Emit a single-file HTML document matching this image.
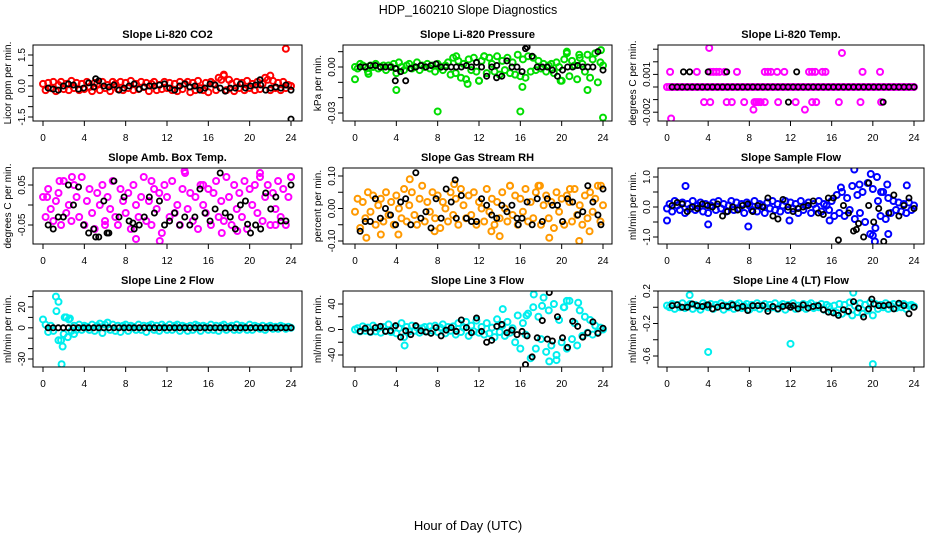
<!DOCTYPE html>
<html><head><meta charset="utf-8"><style>
body{margin:0;background:#fff;}
svg{display:block;font-family:"Liberation Sans",sans-serif;}
</style></head><body>
<svg id="chart" width="936" height="540" viewBox="0 0 936 540" xmlns="http://www.w3.org/2000/svg">
<text x="468" y="14" text-anchor="middle" font-size="12.5">HDP_160210  Slope Diagnostics</text>
<text x="468" y="530" text-anchor="middle" font-size="13">Hour of Day (UTC)</text>
</svg>
<script>
const xTicks=[0,4,8,12,16,20,24];
const titles=["Slope Li-820 CO2","Slope Li-820 Pressure","Slope Li-820 Temp.","Slope Amb. Box Temp.","Slope Gas Stream RH","Slope Sample Flow","Slope Line 2 Flow","Slope Line 3 Flow","Slope Line 4 (LT) Flow"];
const yTitles=["Licor ppm per min.","kPa per min.","degrees C per min.","degrees C per min.","percent per min.","ml/min per min.","ml/min per min.","ml/min per min.","ml/min per min."];
const colors=["#ff0000","#00dd00","#ff00ff","#ff00ff","#ff9900","#0000ff","#00eeee","#00eeee","#00eeee"];
const yTickVals=[[-1.5,-1,-0.5,0,0.5,1,1.5],[-0.03,-0.02,-0.01,0,0.01],[-0.002,-0.001,0,0.001,0.002,0.003],[-0.05,0,0.05],[-0.1,-0.05,0,0.05,0.1],[-1,-0.5,0,0.5,1],[-30,-20,-10,0,10,20,30],[-40,-20,0,20,40],[-0.6,-0.4,-0.2,0,0.2]];
const yTickLabels=[["-1.5","0.0","1.5"],["-0.03","0.00"],["-0.002","0.001"],["-0.05","0.05"],["-0.10","0.00","0.10"],["-1.0","0.0","1.0"],["-30","0","20"],["-40","0","40"],["-0.6","-0.2","0.2"]];
const yTickLabelVals=[[-1.5,0,1.5],[-0.03,0],[-0.002,0.001],[-0.05,0.05],[-0.1,0,0.1],[-1,0,1],[-30,0,20],[-40,0,40],[-0.6,-0.2,0.2]];
const yDomains=[[-1.5,1.5],[-0.03,0],[0,0.001],[-0.05,0.05],[-0.1,0.1],[-1,1],[-30,20],[-40,40],[-0.6,0.2]];

const co2Color=[.1,-.2,.15,-.1,.2,-.25,.05,.2,-.15,.1,-.2,.25,-.1,.15,-.2,.1,-.15,.2,-.05,-.25,.15,.1,-.2,.2,-.1,.05,-.25,.2,.1,-.15,.2,-.2,.15,-.1,.25,-.2,.1,-.15,.2,-.05,.15,-.25,.1,.2,-.2,.05,-.15,.2,-.1,.15,-.2,.1,-.25,.2,-.15,.1,.2,-.3,.15,-.2,.25,-.1,-.2,.15,-.3,.2,.1,-.2,.4,.3,.5,-.2,.3,.1,-.25,.2,-.1,.15,-.2,.25,-.1,.1,-.2,.2,-.15,.1,.4,.3,-.2,.25,-.1,.15,-.2,.2,-.1,.05,0];
const co2Black=[-.1,-.15,-.2,0,.1,.05,-.15,-.1,.15,-.05,.25,0,-.05,.05,-.2,-.1,0,.1,-.15,-.05,0,0,.05,.1,-.1,-.2,0,.1,-.05,0,-.2,-.1,.1,.05,-.1,-.25,-.1,-.1,.1,-.1,0,.05,.05,-.2,-.1,-.05,-.1,.05,-.2];
const co2Extra=[[23.5,1.8],[17.5,.55],[22,.5]];
const co2BlackExtra=[[24,-1.6],[5.1,.35],[21,.3]];

const presColor=[0,-.001,.002,.001,0,-.003,.001,0,.002,-.001,0,.001,-.002,.001,0,.002,-.004,.003,0,-.002,.001,.002,-.001,0,.003,-.002,.001,0,.002,-.001,.001,-.003,.002,0,-.002,.001,.003,-.005,.006,-.004,.004,-.007,.002,-.008,.005,-.002,.006,-.003,-.009,.004,.007,-.004,.006,.002,-.003,.007,-.005,.004,-.002,.006,-.004,.003,-.005,.008,-.006,.005,-.007,.007,-.003,.006,-.002,.004,-.001,.002,-.003,.001,.002,-.004,.003,0,-.009,.005,.009,-.006,.004,.001,-.008,.006,.002,-.003,.008,-.007,.005,.009,-.010,.003,.001];
const presBlack=[0,0,.001,.001,0,0,0,-.001,-.003,-.009,-.001,0,.001,0,.001,.002,0,0,0,0,0,.001,0,.003,0,-.006,0,.001,-.006,.004,0,0,-.003,.013,.007,0,0,0,-.002,-.006,-.002,0,0,.001,0,0,0,.01,-.002];
const presExtra=[[0,-.008],[1.3,-.0045],[4,-.015],[8,-.029],[16,-.029],[16.2,-.013],[22.5,-.015],[24,-.033],[23.8,.011],[20.5,.01],[21.7,.008],[12.5,.007],[9.8,.007],[10.9,-.011],[12,-.009],[19.9,-.009]];
const presBlackExtra=[[3.9,-.009],[16.5,.012],[13.7,-.007]];

const tempColor=[0,0,0,0,0,0,0,0,0,0,0,0,0,0,0,0,0,0,0,0,0,0,0,0,0,0,0,0,0,0,0,0,0,0,0,0,0,0,0,0,0,0,0,0,0,0,0,0,0,0,0,0,0,0,0,0,0,0,0,0,0,0,0,0,0,0,0,0,0,0,0,0,0,0,0,0,0,0,0,0,0,0,0,0,0,0,0,0,0,0,0,0,0,0,0,0,0];
const tempBlack=[0,0,0,0,0,0,0,0,0,0,0,0,0,0,0,0,0,0,0,0,0,0,0,0,0,0,0,0,0,0,0,0,0,0,0,0,0,0,0,0,0,0,0,0,0,0,0,0,0];
const tempExtra=[[0.3,.0012],[2.9,.0012],[4.2,.0012],[4.5,.0012],[4.8,.0012],[5.1,.0012],[5.6,.0012],[6.8,.0012],[9.5,.0012],[9.8,.0012],[10.1,.0012],[10.7,.0012],[11.4,.0012],[13.8,.0012],[14.1,.0012],[14.4,.0012],[15.1,.0012],[15.4,.0012],[19,.0012],[20.7,.0012],[4.1,.0031],[17,.0027],[3.6,-.0012],[4.2,-.0012],[5.8,-.0012],[6.3,-.0012],[7.5,-.0012],[8.5,-.0012],[8.7,-.0012],[8.9,-.0012],[9.1,-.0012],[9.5,-.0012],[10.8,-.0012],[12.5,-.0012],[14.1,-.0012],[14.5,-.0012],[16.7,-.0012],[18.8,-.0012],[20.8,-.0012],[8.4,-.0018],[13.4,-.0018],[0.4,-.0025]];
const tempBlackExtra=[[1.6,.0012],[2.2,.0012],[4,.0012],[5.8,.0012],[12.6,.0012],[11.8,-.0012],[21,-.0012]];

const ambColor=[.02,-.03,.04,-.01,-.04,.01,.03,-.05,.06,-.02,0,-.04,.05,.02,-.03,.07,-.05,.01,.04,-.02,-.06,.03,0,.05,-.04,.02,-.01,.06,-.03,-.05,.04,.01,-.02,.03,-.06,.05,0,-.03,.02,.07,-.04,.01,-.05,.04,-.01,.03,-.07,.05,.02,-.03,.06,-.02,0,-.05,.04,.08,-.01,.03,-.04,.02,-.06,.05,0,-.02,.04,-.05,.03,.06,-.03,.01,-.04,.07,.02,-.05,.05,-.01,.03,-.03,.06,-.06,.04,0,.05,-.02,.07,-.04,.02,.05,-.05,.03,-.01,.06,-.03,.04,-.05,.02,.07];
const ambBlack=[-.05,-.06,-.03,-.03,.05,0,.045,-.05,-.07,-.06,-.08,.01,-.07,.06,-.03,.02,-.04,-.06,-.05,-.03,.02,-.02,.01,-.05,-.04,-.02,-.05,-.03,-.05,-.03,.04,-.02,-.04,-.01,.08,-.02,-.03,-.06,.0,.01,-.07,-.05,-.06,.03,-.01,.02,-.04,-.04,.05];
const ambExtra=[[0.4,.02],[1.6,.06],[2.8,.07],[11.3,-.09],[13.7,.085],[9,-.085],[17.3,-.07],[18.8,-.065],[24,.07],[21,.08],[6,-.05],[10.5,.06],[15.5,.05],[22.5,-.05]];
const ambBlackExtra=[[5.1,-.08],[6.2,-.07],[8.7,-.045],[19.8,-.048]];

const rhColor=[-.01,.03,-.06,.02,-.03,.05,-.01,.04,-.05,.01,.03,-.04,.05,-.02,.02,-.05,.04,0,-.03,.06,-.04,.01,.05,-.02,-.05,.03,.07,-.04,.02,-.01,.05,-.03,.04,-.06,.02,0,-.04,.05,-.02,.03,-.05,.06,.01,-.03,.04,-.02,.05,-.05,.02,0,-.04,.06,-.01,.03,-.05,.02,-.03,.05,0,-.04,.07,-.02,.04,-.05,.03,-.01,.06,-.04,.02,-.03,.05,.07,-.05,.01,.04,-.03,.02,-.06,.05,-.01,.03,-.05,.04,.02,-.04,.06,-.02,.01,-.05,.04,-.03,.05,-.01,.03,.07,-.04,.01];
const rhBlack=[-.07,-.04,-.04,.03,-.03,0,-.02,-.05,.02,.03,-.05,.11,-.03,-.01,-.06,.03,-.03,.06,.02,-.03,.04,-.03,-.04,-.04,.03,.01,-.02,-.03,.01,-.01,.01,-.03,-.03,.02,-.05,.03,-.04,.03,.01,.01,-.04,.03,.02,-.02,-.01,.07,.02,-.02,.06];
const rhExtra=[[1.1,-.09],[2.5,-.08],[4.2,-.08],[7.7,-.07],[13.2,-.07],[14,-.085],[18.8,-.09],[21.7,-.1],[22.7,-.07],[5.3,.09],[9.6,.075],[15,.07],[17.9,.07],[20.8,.06],[23.8,.07]];
const rhBlackExtra=[[9.7,.088],[15.8,-.05],[23.8,-.05]];

const sfColor=[-.05,.1,-.15,.2,.05,-.1,.15,-.2,.1,-.05,.2,-.1,.05,.15,-.15,.1,-.2,.05,.15,-.1,.2,-.05,.1,-.15,.05,.2,-.1,.15,-.05,.1,-.2,.15,.05,-.1,.2,-.15,.1,.05,-.2,.15,-.05,.2,-.1,.1,-.15,.05,.2,-.1,.15,-.05,.1,-.2,.2,-.1,.05,.15,-.2,.1,-.05,.2,-.15,.1,.05,-.1,.2,-.3,.4,-.2,.5,-.3,.3,-.1,.7,-.4,.4,-.2,.5,-.5,.8,-.9,.6,-.7,.2,-.3,.5,-.4,.3,-.2,.2,-.1,.15,-.15,.1,-.2,.15,-.1,.05];
const sfBlack=[.05,.15,.1,-.15,0,-.05,.1,.05,0,.1,-.3,-.15,0,-.1,.05,.1,-.15,.05,0,.3,-.3,-.4,.25,0,-.15,-.05,0,.05,.2,-.2,-.25,.3,.3,-1.1,.05,-.2,-.8,-.55,-1,.05,-.5,-.05,-1.15,-.2,.4,-.3,.05,.3,-.05];
const sfExtra=[[0,-.45],[1.8,.7],[4,-.58],[7.9,-.65],[11.9,-.45],[15.8,-.45],[16.9,.65],[18.2,1.25],[18.7,.75],[19.8,1.1],[20.4,1.0],[20.8,.5],[21.4,.75],[21.5,-.9],[20,-.95],[20.2,-1.15],[23.3,.72]];
const sfBlackExtra=[[19.6,.8],[18.4,-.75]];

const l2Color=[8,3,-4,2,-3,30,25,-12,-6,10,8,-3,2,-2,3,-2,2,1,-2,3,-3,2,4,-5,3,5,-2,3,-3,2,-4,2,3,-3,2,1,-2,3,-2,2,-4,2,3,-2,2,-3,3,1,-2,3,-2,2,3,-3,2,1,-3,2,-2,3,2,-3,2,1,-2,3,-2,2,-3,2,3,-2,1,2,-2,3,-2,2,1,-2,3,-2,2,1,-1,2,-2,1,2,-1,1,-1,2,1,-1,1,0];
const l2Black=[0,0,0,0,0,0,0,0,0,0,0,0,0,0,0,0,0,0,0,0,0,0,0,0,0,0,0,0,0,0,0,0,0,0,0,0,0,0,0,0,0,0,0,0,0,0,0,0,0];
const l2Extra=[[1.3,16],[1.5,-12],[1.9,-18],[1.8,-35],[2.1,10],[2.4,-9],[2.6,9],[3,-6]];
const l2BlackExtra=[];

const l3Color=[0,2,-3,5,-2,3,-4,6,-3,2,-5,4,-2,8,-4,3,-6,2,10,-12,4,-3,6,-2,3,-5,2,4,-3,5,-2,6,-4,3,8,-6,4,-2,5,-8,10,-4,3,12,-10,6,-3,14,-5,4,-8,10,-6,3,-12,16,-4,6,-10,12,-5,2,-20,22,-30,10,-8,25,-45,35,-30,20,-15,50,-35,30,-25,40,-40,15,-20,35,-30,45,-15,10,-25,30,-10,20,-5,15,-8,6,-4,3,0];
const l3Black=[-3,2,-4,3,5,-3,-2,6,-12,-2,-8,6,-2,-4,-6,3,-10,-1,3,-3,15,3,-5,18,-3,-20,-17,5,8,-5,-1,-8,-3,-10,-43,-13,14,-15,-18,20,-13,-28,13,5,-12,-5,12,-6,2];
const l3Extra=[[4.8,-25],[14.3,32],[17.3,55],[18.1,37],[18.8,-50],[19.5,-48],[20.2,35],[20.5,45],[21.6,42],[16.6,22]];
const l3BlackExtra=[[16.5,-55],[18.8,58]];

const l4Color=[.02,0,.04,-.02,.03,0,.05,-.01,.02,.04,-.02,.03,.01,-.03,.05,.02,0,.04,-.02,.03,.01,.05,-.03,.02,0,.04,-.02,.03,.05,-.01,.02,.04,-.03,.03,0,.05,-.02,.02,.04,-.01,.03,0,.05,-.02,.02,.04,-.03,.03,.01,.05,-.02,.02,0,.04,-.02,.03,.05,-.01,.02,0,.04,-.03,.03,.01,-.05,.02,-.07,.04,-.08,.03,-.05,.06,-.1,.02,-.06,.05,-.08,.03,-.04,.06,-.1,.04,-.02,.03,0,.05,-.02,.02,.04,-.01,.03,0,.04,-.02,.02,.03,.01];
const l4Black=[.02,.03,0,0,.04,.02,.01,.03,-.02,0,.02,.01,.03,-.01,.01,-.04,.02,.02,.02,-.05,.01,-.02,.01,.02,.02,-.02,.03,-.01,.01,.02,-.03,-.06,-.07,-.1,-.03,-.05,.07,-.01,-.12,-.02,.04,.02,.02,.03,-.02,.05,.02,-.08,0];
const l4Extra=[[2.2,.15],[4,-.55],[12,-.45],[20,-.7],[18.1,.18]];
const l4BlackExtra=[[19.9,.1],[12,0],[4,.03]];

const panelColor=[co2Color,presColor,tempColor,ambColor,rhColor,sfColor,l2Color,l3Color,l4Color];
const panelBlack=[co2Black,presBlack,tempBlack,ambBlack,rhBlack,sfBlack,l2Black,l3Black,l4Black];
const panelExtra=[co2Extra,presExtra,tempExtra,ambExtra,rhExtra,sfExtra,l2Extra,l3Extra,l4Extra];
const panelBlackExtra=[co2BlackExtra,presBlackExtra,tempBlackExtra,ambBlackExtra,rhBlackExtra,sfBlackExtra,l2BlackExtra,l3BlackExtra,l4BlackExtra];

const colBox=[[33,302],[343,612],[658,924]];
const colX=[[43,291],[355,603],[667,914]];
const rowBox=[[45,121],[168,244],[291,367]];
const yPix=[[117,55],[113,67],[87,74.4],[225,185],[241,176],[237,177],[359,307],[355,304],[356,291]];

const svg=document.getElementById('chart');
const NS='http://www.w3.org/2000/svg';
function mk(tag,attrs,parent){const e=document.createElementNS(NS,tag);for(const k in attrs)e.setAttribute(k,attrs[k]);(parent||svg).appendChild(e);return e;}

for(let p=0;p<9;p++){
  const c=p%3,r=Math.floor(p/3);
  const [bx0,bx1]=colBox[c],[by0,by1]=rowBox[r];
  const [x0,x1]=colX[c];
  const [v0,v1]=yDomains[p],[p0,p1]=yPix[p];
  const xs=h=>x0+(x1-x0)*h/24;
  const ys=v=>p0+(p1-p0)*(v-v0)/(v1-v0);
  const g=mk('g',{});
  
  
  const t=mk('text',{x:(bx0+bx1)/2,y:by0-7,'text-anchor':'middle','font-size':'11','font-weight':'bold'},g);
  t.textContent=titles[p];
  
  
  const yt=mk('text',{x:0,y:0,'text-anchor':'middle','font-size':'10',transform:`translate(${bx0-22},${(by0+by1)/2}) rotate(-90)`},g);
  yt.textContent=yTitles[p];
  
  
  const clip='clip'+p;
  const cp=mk('clipPath',{id:clip},g);mk('rect',{x:bx0,y:by0,width:bx1-bx0,height:by1-by0},cp);
  const pts=mk('g',{'clip-path':`url(#${clip})`,fill:'none','stroke-width':'2'},g);
  const col=panelColor[p];
  col.forEach((v,i)=>{const e=mk('circle',{cx:xs(i*24/(col.length-1)),cy:ys(v),r:3,stroke:colors[p]},pts);
    
    });
  panelExtra[p].forEach(d=>{const e=mk('circle',{cx:xs(d[0]),cy:ys(d[1]),r:3,stroke:colors[p]},pts);
    
    });
  const bl=panelBlack[p];
  bl.forEach((v,i)=>{const e=mk('circle',{cx:xs(0.5+i*23.5/(bl.length-1)),cy:ys(v),r:2.6,stroke:'#000','stroke-width':'1.8'},pts);
    
    });
  panelBlackExtra[p].forEach(d=>{const e=mk('circle',{cx:xs(d[0]),cy:ys(d[1]),r:2.6,stroke:'#000','stroke-width':'1.8'},pts);
    
    });
  const box=mk('rect',{x:bx0,y:by0,width:bx1-bx0,height:by1-by0,fill:'none',stroke:'#000','stroke-width':'1'},g);
  
  
  xTicks.forEach(h=>{const x=xs(h);
    mk('line',{x1:x,x2:x,y1:by1,y2:by1+5,stroke:'#000'},g);
    const tl=mk('text',{x:x,y:by1+20,'text-anchor':'middle','font-size':'10'},g);tl.textContent=h;
    
    });
  yTickVals[p].forEach(v=>{const y=ys(v);mk('line',{x1:bx0-5,x2:bx0,y1:y,y2:y,stroke:'#000'},g);});
  yTickLabelVals[p].forEach((v,i)=>{const y=ys(v);
    const tl=mk('text',{x:0,y:0,'text-anchor':'middle','font-size':'10',transform:`translate(${bx0-8},${y}) rotate(-90)`},g);
    tl.textContent=yTickLabels[p][i];
    
    });
}
</script>
</body></html>
